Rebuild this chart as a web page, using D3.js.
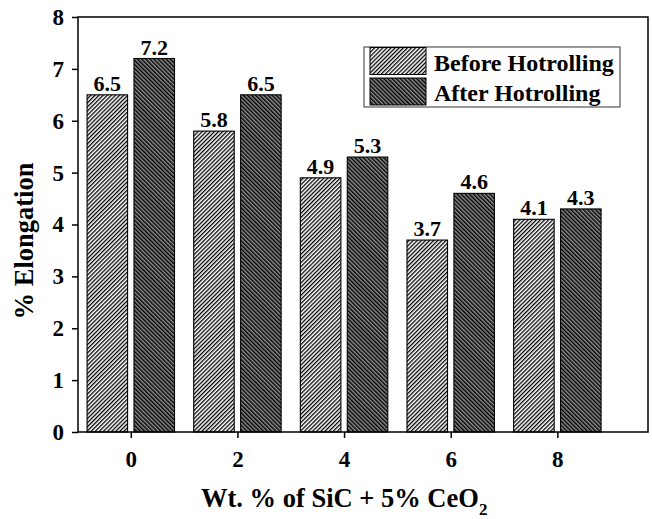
<!DOCTYPE html>
<html>
<head>
<meta charset="utf-8">
<script src="https://cdn.jsdelivr.net/npm/d3@7"></script>
<style>
  body { margin: 0; background: #fff; }
  svg text { font-family: "Liberation Serif", "Times New Roman", serif; font-weight: bold; fill: #000; }
</style>
</head>
<body>
<div id="chart"></div>
<script>
// data
const categories = [0, 2, 4, 6, 8];
const beforeValues = [6.5, 5.8, 4.9, 3.7, 4.1];
const afterValues = [7.2, 6.5, 5.3, 4.6, 4.3];
const seriesNames = ["Before Hotrolling", "After Hotrolling"];
const yTicks = [0, 1, 2, 3, 4, 5, 6, 7, 8];

const W = 652, H = 519;
const margin = {top: 17, right: 4, bottom: 87, left: 78};
const width = W - margin.left - margin.right;
const height = H - margin.top - margin.bottom;

const svg = d3.select("#chart").append("svg")
    .attr("width", W).attr("height", H);

// hatch patterns
const defs = svg.append("defs");
const ps = 2.9;
const pBefore = defs.append("pattern").attr("id", "hatchBefore")
    .attr("patternUnits", "userSpaceOnUse").attr("width", ps).attr("height", ps)
    .attr("patternTransform", "rotate(45)");
pBefore.append("rect").attr("width", ps).attr("height", ps).attr("fill", "#fff");
pBefore.append("rect").attr("width", 1.3).attr("height", ps).attr("fill", "#000");

const pAfter = defs.append("pattern").attr("id", "hatchAfter")
    .attr("patternUnits", "userSpaceOnUse").attr("width", ps).attr("height", ps)
    .attr("patternTransform", "rotate(-45)");
pAfter.append("rect").attr("width", ps).attr("height", ps).attr("fill", "#8c8c8c");
pAfter.append("rect").attr("width", 1.4).attr("height", ps).attr("fill", "#000");

const fills = ["url(#hatchBefore)", "url(#hatchAfter)"];

const g = svg.append("g").attr("transform", "translate(" + margin.left + "," + margin.top + ")");

const x = d3.scaleLinear().domain([-0.99, 9.7]).range([0, width]);
const y = d3.scaleLinear().domain([0, 8]).range([height, 0]);

const barW = 0.76;
const offsets = [-0.44, 0.44];

// bars
const series = [beforeValues, afterValues];
series.forEach(function(vals, si) {
    const rows = categories.map(function(c, i) { return {c: c, v: vals[i]}; });
    const grp = g.append("g").attr("class", "series" + si);
    grp.selectAll("rect").data(rows)
        .enter().append("rect")
        .attr("x", function(d) { return x(d.c + offsets[si] - barW / 2); })
        .attr("y", function(d) { return y(d.v); })
        .attr("width", function(d) { return x(d.c + barW) - x(d.c); })
        .attr("height", function(d) { return y(0) - y(d.v); })
        .attr("fill", fills[si])
        .attr("stroke", "#000").attr("stroke-width", 1.1);

    grp.selectAll("text").data(rows)
        .enter().append("text")
        .attr("x", function(d) { return x(d.c + offsets[si]); })
        .attr("y", function(d) { return y(d.v) - 4; })
        .attr("text-anchor", "middle")
        .style("font-size", "22px")
        .text(function(d) { return d.v.toFixed(1); });
});

// frame
g.append("rect").attr("width", width).attr("height", height)
    .attr("fill", "none").attr("stroke", "#000").attr("stroke-width", 1.5);

// axes
const xAxis = g.append("g").attr("transform", "translate(0," + height + ")")
    .call(d3.axisBottom(x).tickValues(categories).tickSize(6).tickPadding(13).tickFormat(d3.format("d")));
const yAxis = g.append("g")
    .call(d3.axisLeft(y).tickValues(yTicks).tickSize(6).tickPadding(8).tickFormat(d3.format("d")));
[xAxis, yAxis].forEach(function(a) {
    a.select(".domain").remove();
    a.selectAll(".tick line").attr("stroke", "#000").attr("stroke-width", 1.5);
    a.selectAll(".tick text").style("font-size", "23px")
        .style("font-family", "'Liberation Serif', 'Times New Roman', serif").style("font-weight", "bold");
});

// axis titles
const xt = svg.append("text")
    .attr("x", 201).attr("y", 507)
    .style("font-size", "26.5px");
xt.append("tspan").text("Wt. % of SiC + 5% CeO");
xt.append("tspan").attr("dy", 8).style("font-size", "17px").text("2");

svg.append("text")
    .attr("transform", "translate(33,241) rotate(-90)")
    .attr("text-anchor", "middle")
    .style("font-size", "26.5px")
    .text("% Elongation");

// legend
const legend = svg.append("g").attr("transform", "translate(364,47)");
legend.append("rect").attr("width", 256).attr("height", 60)
    .attr("fill", "#fff").attr("stroke", "#555").attr("stroke-width", 1.2);
seriesNames.forEach(function(name, i) {
    const item = legend.append("g").attr("transform", "translate(6," + (0.5 + i * 30.5) + ")");
    item.append("rect").attr("width", 56).attr("height", 27)
        .attr("fill", fills[i]).attr("stroke", "#000").attr("stroke-width", 1);
    item.append("text").attr("x", 64).attr("y", 23)
        .style("font-size", "24px").text(name);
});
</script>
</body>
</html>
